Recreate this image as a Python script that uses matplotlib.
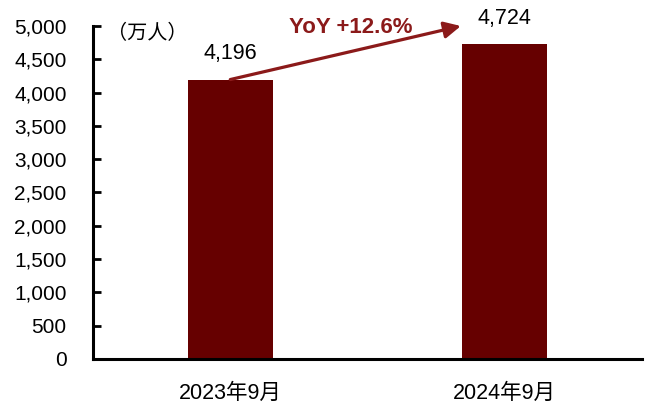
import matplotlib.pyplot as plt

plt.rcParams['font.family'] = ['Liberation Sans', 'Noto Sans CJK SC', 'DejaVu Sans']

categories = ["2023年9月", "2024年9月"]
values = [4196, 4724]
value_labels = ["4,196", "4,724"]
yoy_text = "YoY +12.6%"
unit_text = "（万人）"

bar_color = "#660000"
arrow_color = "#8B1A1A"

fig = plt.figure(figsize=(6.6, 4.18), dpi=100)
ax = fig.add_axes([93 / 660, 1 - 359 / 418, 549 / 660, 333 / 418])

x = list(range(len(categories)))
bars = ax.bar(x, values, width=0.31, color=bar_color)

ax.set_xlim(-0.5, 1.5)
ax.set_ylim(0, 5000)
ax.set_yticks(range(0, 5001, 500))
ax.set_yticklabels([f"{v:,}" for v in range(0, 5001, 500)])
ax.set_xticks(x)
ax.set_xticklabels(categories)

for s in ["top", "right"]:
    ax.spines[s].set_visible(False)
for s in ["left", "bottom"]:
    ax.spines[s].set_linewidth(2.2)
    ax.spines[s].set_color("black")

ax.tick_params(axis="y", direction="in", length=6, width=2, labelsize=15, pad=19)
ax.tick_params(axis="x", length=0, labelsize=15.5, pad=17)

# value labels above bars
for bar, lbl in zip(bars, value_labels):
    ax.annotate(lbl, (bar.get_x() + bar.get_width() / 2, bar.get_height()),
                xytext=(0, 11), textcoords="offset points",
                ha="center", va="bottom", fontsize=15.5)

# growth arrow
ax.annotate("", xy=(0.84, 5000), xytext=(0, values[0]),
            arrowprops=dict(arrowstyle="-|>,head_length=1.0,head_width=0.5",
                            color=arrow_color, lw=2.3, shrinkA=0, shrinkB=0),
            annotation_clip=False)
ax.text(0.44, 4895, yoy_text, color=arrow_color, fontsize=16, fontweight="bold",
        ha="center", va="baseline", clip_on=False)

# unit label
ax.text(-0.45, 4895, unit_text, fontsize=14.5, ha="left", va="center")

fig.savefig("out.png", dpi=100)
